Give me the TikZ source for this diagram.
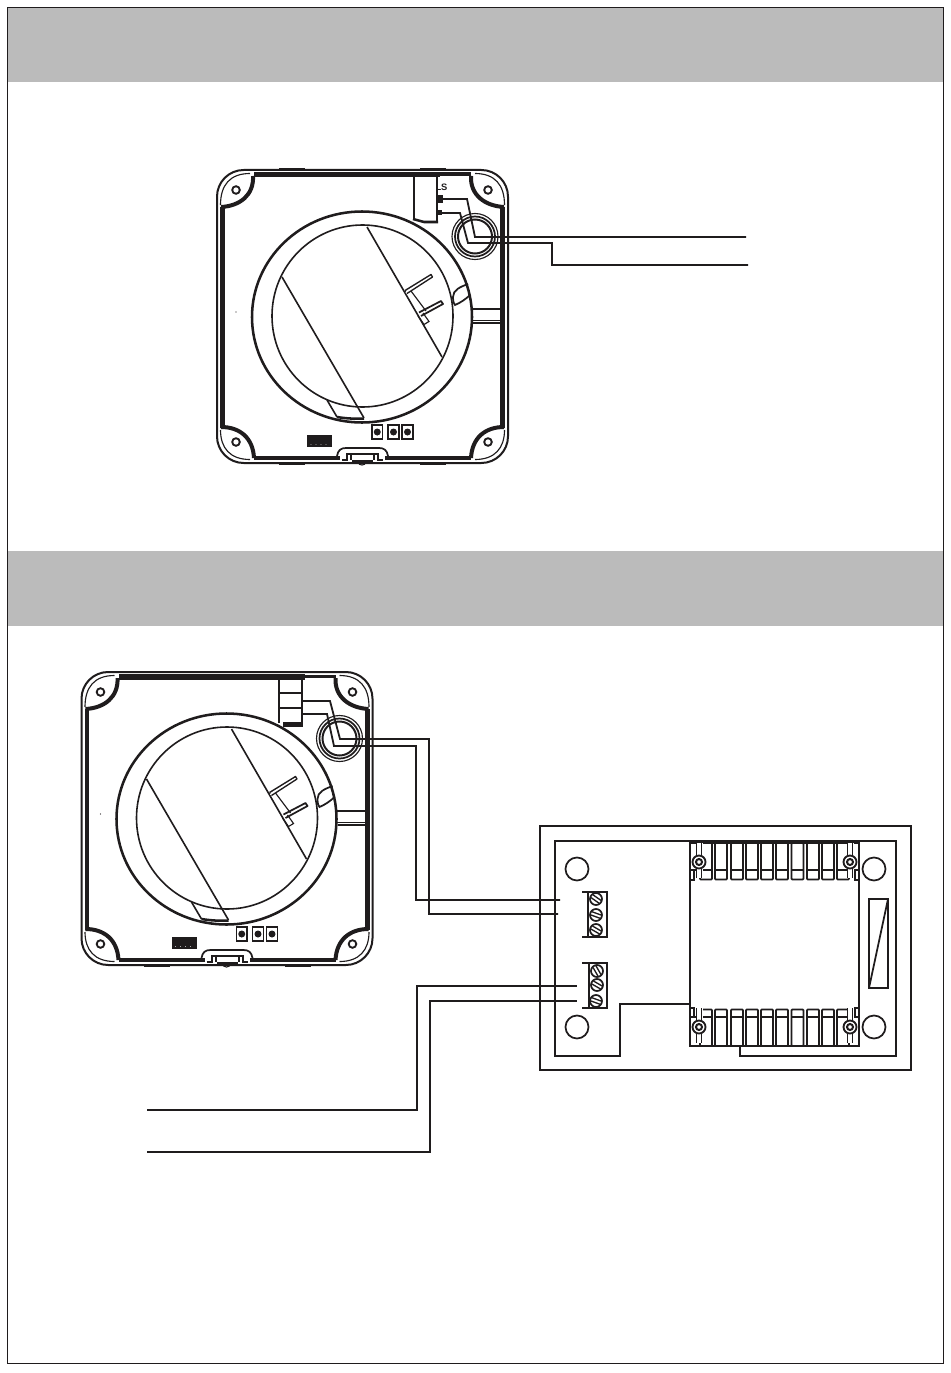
\documentclass[tikz,border=0pt]{standalone}
\usepackage{fontspec}
\setmainfont{Liberation Sans}
\definecolor{band}{HTML}{BBBBBB}
\definecolor{ink}{HTML}{1F1C1D}
\newcommand{\slotscrew}[3]{% x,y,angle
  \draw[ink,line width=1.3pt,fill=white] (#1,#2) circle[radius=6];
  \begin{scope}[shift={(#1,#2)},rotate=#3]
    \draw[ink,line width=1pt] (-5,-1.7)--(5,-1.7) (-5,1.7)--(5,1.7);
  \end{scope}}
\newcommand{\lug}[2]{% relay fixing screw
  \begin{scope}[shift={(#1,#2)}]
    \fill[white] (-3.5,-19) rectangle (3.5,16);
    \draw[ink,line width=1.1pt] (-2.5,-19)--(-2.5,-7) (2.5,-19)--(2.5,-7) (-2.5,7)--(-2.5,16) (2.5,7)--(2.5,16);
    \draw[ink,line width=1.4pt,fill=white] (0,0) circle[radius=6.5];
    \draw[ink,line width=1.5pt] (0,0) circle[radius=3];
  \end{scope}}
\tikzset{
  x=0.75pt,y=-0.75pt,
  thinl/.style={ink,line width=0.85pt},
  medl/.style={ink,line width=1.3pt},
  wirel/.style={ink,line width=1.35pt},
  powerl/.style={ink,line width=2.1pt},
  device/.pic={
    % outer shell
    \draw[ink,line width=1.5pt,rounded corners=20pt] (217,170) rectangle (508,463);
    \draw[thinl] (220.5,205) .. controls (220.5,185) and (230,173.5) .. (250,173.5);
    \draw[thinl] (504.5,205) .. controls (504.5,185) and (495,173.5) .. (475,173.5);
    \draw[thinl] (220.5,430) .. controls (220.5,448) and (230,459.5) .. (250,459.5);
    \draw[thinl] (504.5,430) .. controls (504.5,448) and (495,459.5) .. (475,459.5);
    % outside bumps
    \draw[ink,line width=1.5pt] (279,169.5) -- (305,169.5) (420,169.5) -- (446,169.5);
    \draw[ink,line width=1.5pt] (279,463.5) -- (305,463.5) (420,463.5) -- (446,463.5);
    % thick walls
    \fill[ink] (220,207) rectangle (224.5,428);
    \fill[ink] (500,207) rectangle (505,428);
    \fill[ink] (254,172) rectangle (440,177.5);
    \fill[ink] (440,172.5) rectangle (471,176);
    \fill[ink] (254,456) rectangle (340,460);
    \fill[ink] (385,456) rectangle (471,460);
    % corner pockets
    \draw[ink,line width=3pt] (253,176) .. controls (254,195) and (240,206) .. (221,207);
    \draw[ink,line width=3pt] (471,176) .. controls (470,195) and (485,206) .. (504,207);
    \draw[ink,line width=3pt] (221,427) .. controls (240,427) and (253,438) .. (254,458);
    \draw[ink,line width=3pt] (504,427) .. controls (485,427) and (472,438) .. (471,458);
    \foreach \sx/\sy in {236/190,488/190,236/442,488/442}
      \draw[ink,line width=1.4pt] (\sx,\sy) circle[radius=3.8];
    \fill[ink] (236,312) circle[radius=0.7];
    % ring and disc
    \draw[ink,line width=1.9pt,fill=white] (362,317) ellipse[x radius=110,y radius=105.5];
    \draw[ink,line width=1.2pt] (362.5,316) ellipse[x radius=90.5,y radius=91];
    \draw[ink,line width=1.2pt] (367,227) -- (442,357);
    \draw[ink,line width=1.2pt] (282,277) -- (364,418);
    \draw[ink,line width=1.2pt] (327,400) -- (337,417);
    \draw[ink,line width=1.9pt] (337,417) .. controls (346,418.5) and (355,419) .. (364,418.5);
    % lever
    \draw[ink,line width=1pt] (405,292) -- (431,276);
    \draw[ink,line width=2.4pt,line cap=round,white] (407,292) -- (431,277);
    \draw[ink,line width=1pt,line join=round] (405,290.5) -- (431,274.5) -- (432.5,277) -- (407,293.5);
    \draw[thinl] (411,291) -- (426,311);
    \draw[ink,line width=1.3pt,line join=round] (419,312.5) -- (441,301) -- (443,304) -- (421,316);
    \draw[thinl] (418,316) -- (424,324.5) -- (429,321.5) -- (423,313);
    % notch
    \draw[medl] (468,284) .. controls (460,287) and (453,290) .. (453,297) .. controls (453,302) and (454,304) .. (455,305) .. controls (460,303) and (466,299) .. (470,295);
    % tab
    \draw[medl] (472,309) -- (500,309);
    \draw[ink,line width=1.9pt] (473,323) -- (500,323);
    \draw[thinl] (472,320.5) -- (500,320.5);
    % grommet
    \draw[thinl] (475,236.5) circle[radius=23];
    \draw[medl] (475,236.5) circle[radius=20];
    \draw[ink,line width=1.5pt] (475,236.5) circle[radius=17];
    % bottom clip
    \draw[medl] (337,456) .. controls (338,450) and (341,448) .. (346,448) -- (379,448) .. controls (384,448) and (387,450) .. (388,456);
    \fill[white] (340,456) rectangle (385,461);
    \draw[ink,line width=1.5pt] (342,459.5) -- (347,459.5) -- (347,454) -- (378,454) -- (378,459.5) -- (383,459.5);
    \draw[ink,line width=1.5pt] (351,454) -- (351,460) (374,454) -- (374,460);
    \draw[medl] (352,461) -- (373,461);
    \draw[thinl] (358,462) .. controls (359,466) and (365,466) .. (366,462);
    % parts on the lower edge
    \fill[ink] (307,435) rectangle (332,447);
    \foreach \dotx in {311,316,321,326} \fill[white] (\dotx,444.5) circle[radius=0.4];
    \foreach \sqx/\sqw in {372/10.5,388/11,402/11}{
      \draw[medl] (\sqx,425) rectangle ++(\sqw,14);
      \fill[ink] (\sqx+\sqw/2,432) circle[radius=3.5];
    }
  }
}
\begin{document}
\begin{tikzpicture}
\useasboundingbox (0,0) rectangle (950,1373);
\fill[white] (0,0) rectangle (950,1373);
% page bands and frame
\fill[band] (8,8) rectangle (943,82);
\fill[band] (8,551) rectangle (943,626);
\draw[ink,line width=0.7pt] (7.5,7.5) rectangle (943,1363);

% ---------- upper device
\pic (d1) at (0,0) {device};
\fill[white] (414.5,178) rectangle (437,219);
\draw[ink,line width=1.5pt] (414,177) -- (414,219) (437,177) -- (437,221);
\draw[ink,line width=1.9pt] (413,219) -- (424,222) -- (438,222);
\node[font=\bfseries\fontsize{7pt}{8pt}\selectfont,inner sep=0pt,text=ink] (ls) at (441.5,187) {LS};
\fill[ink] (437,195) rectangle (443,203);
\fill[ink] (437,210) rectangle (442,215);
\coordinate (a1) at (442,199); \coordinate (a2) at (467,199); \coordinate (a3) at (475,237); \coordinate (a4) at (746,237);
\coordinate (b1) at (442,213); \coordinate (b2) at (460,213); \coordinate (b3) at (468,243); \coordinate (b4) at (552,243); \coordinate (b5) at (552,265); \coordinate (b6) at (748,265);
\draw[wirel] (a1) -- (a2) -- (a3) -- (a4);
\draw[wirel] (b1) -- (b2) -- (b3) -- (b4) -- (b5) -- (b6);

% ---------- lower device
\pic[shift={(-135.5,502)}] (d2) at (0,0) {device};
\fill[white] (279,681) rectangle (302,722);
\draw[ink,line width=1.5pt] (279,679) -- (279,723) (302,679) -- (302,726);
\draw[medl] (279,693) -- (302,693) (279,708) -- (302,708);
\fill[ink] (283,722) rectangle (303,727);
\coordinate (c1) at (302,701); \coordinate (c2) at (330,701); \coordinate (c3) at (340,739); \coordinate (c4) at (429,739); \coordinate (c5) at (429,914); \coordinate (c6) at (558,914);
\coordinate (e1) at (302,714); \coordinate (e2) at (327,714); \coordinate (e3) at (334,746); \coordinate (e4) at (416,746); \coordinate (e5) at (416,900); \coordinate (e6) at (560,900);
\draw[wirel] (c1) -- (c2) -- (c3) -- (c4) -- (c5) -- (c6);
\draw[wirel] (e1) -- (e2) -- (e3) -- (e4) -- (e5) -- (e6);

% ---------- transformer box
\draw[ink,line width=1.3pt] (540,826) rectangle (911,1070);
\draw[medl] (740,1047) -- (740,1056) -- (896,1056) -- (896,841) -- (555,841) -- (555,1056) -- (620,1056) -- (620,1004) -- (690,1004);
\foreach \cx/\cy in {577/869,577/1027,874/869,874/1027}
  \draw[medl] (\cx,\cy) circle[radius=11.5];
% fuse
\draw[medl] (869,899) rectangle (888,988);
\draw[medl] (869,988) -- (888,899);
% relay
\draw[ink,line width=1.4pt] (690,843) rectangle (859,1046);
\foreach \celx in {700,715,731,746,761,776,791.5,807,822,837}{
  \draw[medl,rounded corners=0.7pt] (\celx,843) rectangle ++(12,36.5);
  \draw[medl] (\celx,870) -- ++(12,0);
  \draw[medl,rounded corners=0.7pt] (\celx,1009.5) rectangle ++(12,36.5);
  \draw[medl] (\celx,1017) -- ++(12,0);
}
\draw[medl] (690,870) -- (700,870) (849,870) -- (859,870) (690,1017) -- (700,1017) (849,1017) -- (859,1017);
\draw[medl] (690,880) -- (694,880) -- (694,870) (859,880) -- (855,880) -- (855,870) (690,1008) -- (694,1008) -- (694,1017) (859,1008) -- (855,1008) -- (855,1017);
\lug{699}{862}
\lug{850}{862}
\lug{699}{1027}
\lug{850}{1027}
% terminal strips
\draw[thinl] (582,892) -- (607,892) -- (607,937) -- (582,937);
\draw[medl] (588,892) -- (588,937);
\slotscrew{596}{899}{-35}
\slotscrew{596}{915}{-20}
\slotscrew{596}{930}{-30}
\draw[thinl] (582,963) -- (607,963) -- (607,1008) -- (582,1008);
\draw[medl] (589,963) -- (589,1008);
\slotscrew{597}{971}{-60}
\slotscrew{597}{985}{-30}
\slotscrew{596}{1001}{-20}
% mains wires
\coordinate (f1) at (147,1110); \coordinate (f2) at (417,1110); \coordinate (f3) at (417,986); \coordinate (f4) at (577,986);
\coordinate (g1) at (147,1152); \coordinate (g2) at (430,1152); \coordinate (g3) at (430,1001); \coordinate (g4) at (577,1001);
\draw[powerl] (f1) -- (f2) -- (f3) -- (f4);
\draw[powerl] (g1) -- (g2) -- (g3) -- (g4);
\end{tikzpicture}
\end{document}
